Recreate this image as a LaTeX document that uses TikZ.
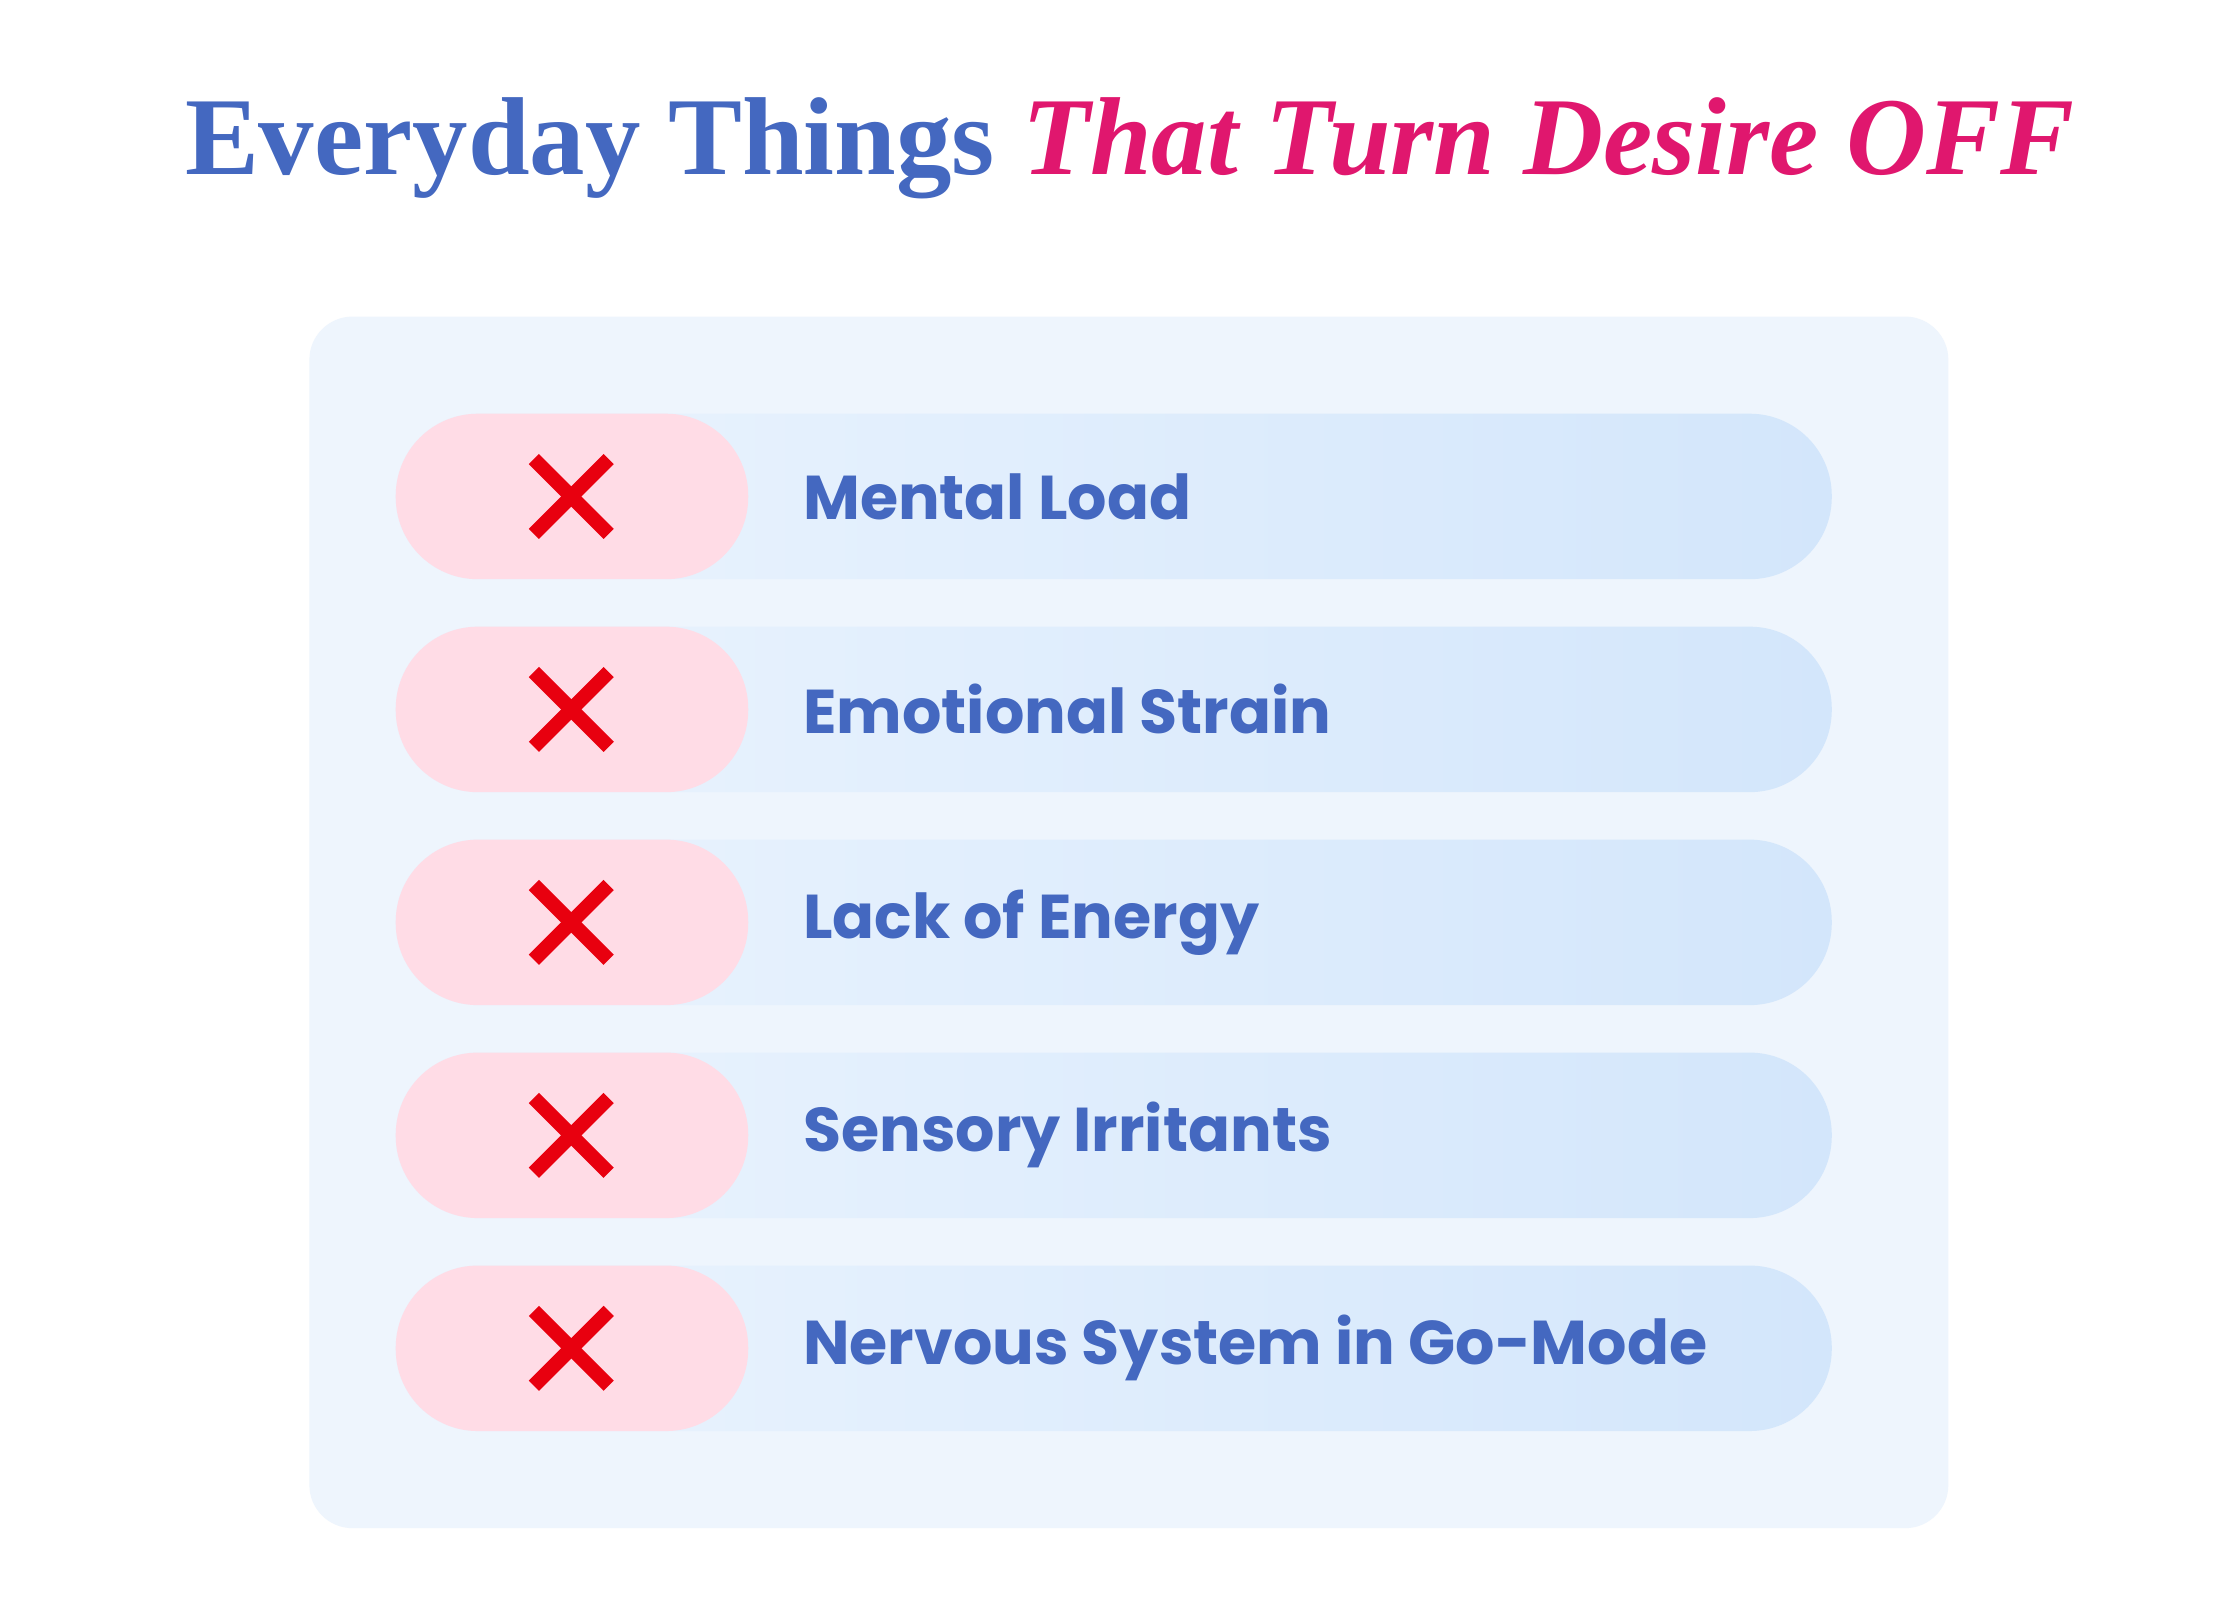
\documentclass[tikz,border=0pt]{standalone}
\usepackage{fontspec}
\usetikzlibrary{calc}
\setmainfont{Liberation Serif}
\newfontfamily\itemfont{Poppins}
\definecolor{panel}{HTML}{EEF5FD}
\definecolor{rowL}{HTML}{EBF4FE}
\definecolor{rowR}{HTML}{D3E6FB}
\definecolor{pinkpill}{HTML}{FFDCE6}
\definecolor{xred}{HTML}{E8000F}
\definecolor{tblue}{HTML}{4468C0}
\definecolor{tpink}{HTML}{E0176E}
\begin{document}
\begin{tikzpicture}[x=1pt,y=-1pt,
  rowbar/.style={rounded corners=57pt,left color=rowL,right color=rowR,draw=none},
  pinkbar/.style={rounded corners=57pt,fill=pinkpill,draw=none},
  xmark/.style={draw=xred,line width=10pt},
  itemtext/.style={anchor=west,text=tblue,font=\itemfont\bfseries\fontsize{43}{50}\selectfont,inner sep=0pt}]
\useasboundingbox (0,0) rectangle (1556,1125);
\fill[white] (0,0) rectangle (1556,1125);
\node[inner sep=0pt] (title) at (785,103) {\fontsize{77}{88}\selectfont\bfseries\color{tblue}Everyday Things \color{tpink}\itshape That Turn Desire OFF};
\fill[panel,rounded corners=30pt] (215,220) rectangle (1354,1062);
\foreach \i/\t in {0/Mental Load,1/Emotional Strain,2/Lack of Energy,3/Sensory Irritants,4/Nervous System in Go-Mode}{
  \pgfmathsetmacro\yc{345+148*\i}
  \path[rowbar] (275,\yc-57.5) rectangle (1273,\yc+57.5);
  \path[pinkbar] (275,\yc-57.5) rectangle (520,\yc+57.5);
  \coordinate (xc\i) at (397,\yc);
  \draw[xmark] ($(xc\i)+(-26,-26)$) -- ($(xc\i)+(26,26)$);
  \draw[xmark] ($(xc\i)+(-26,26)$) -- ($(xc\i)+(26,-26)$);
  \node[itemtext] (item\i) at (558,\yc) {\t};
}
\end{tikzpicture}
\end{document}
